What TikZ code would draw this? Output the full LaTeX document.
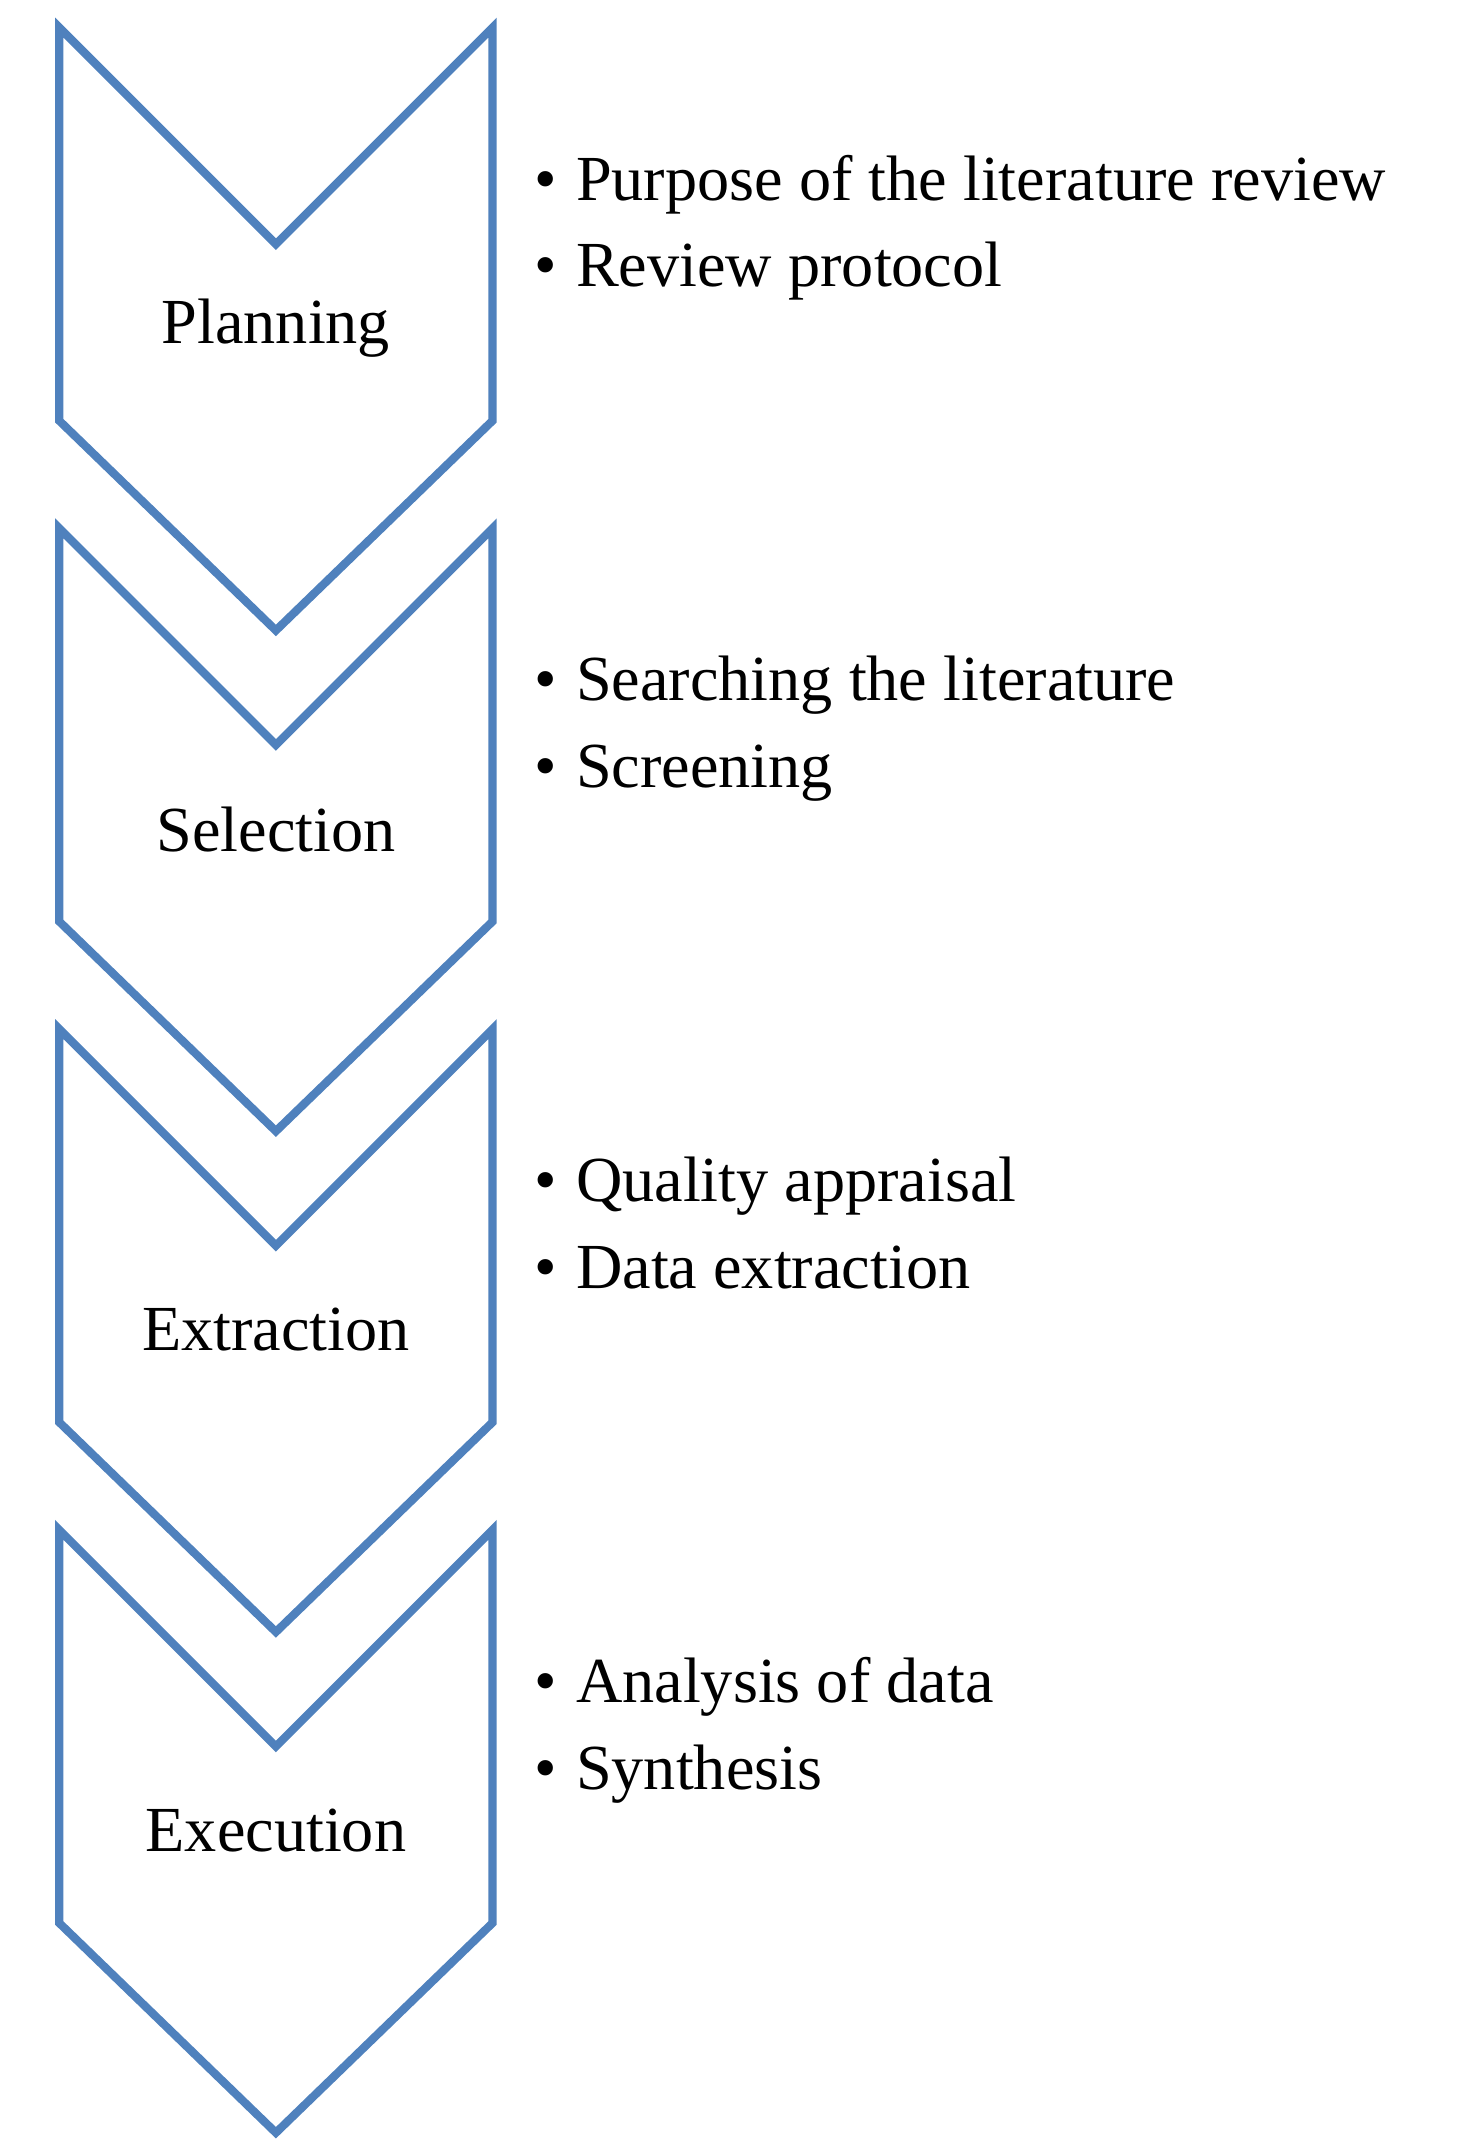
\documentclass[tikz,border=0pt]{standalone}
\usepackage{fontspec}
\setmainfont{Liberation Serif}
\definecolor{stepblue}{RGB}{79,129,189}
\tikzset{
  chevron/.style={draw=stepblue, line width=3.4pt, line join=miter},
  steplabel/.style={font=\fontsize{26.5}{30}\selectfont, anchor=center},
  bullettext/.style={font=\fontsize{26.5}{30}\selectfont, anchor=base west, inner sep=0pt}
}
\begin{document}
\begin{tikzpicture}[x=0.02cm, y=-0.02cm]
  \useasboundingbox (0,0) rectangle (1060,1552);
  \foreach \name [count=\c] in {Planning,Selection,Extraction,Execution}
  {
    \pgfmathsetmacro{\dy}{(\c-1)*363}
    \begin{scope}[yshift=-\dy*0.02cm]
      \draw [chevron] (43,20) -- (200,177) -- (357,20) -- (357,305)
        -- (200,457) -- (43,305) -- cycle;
      \node [steplabel] (step\c) at (200,238) {\name};
    \end{scope}
  }
  % bullet points
  \foreach \txt [count=\c] in {Purpose of the literature review, Review protocol,
    Searching the literature, Screening, Quality appraisal, Data extraction,
    Analysis of data, Synthesis}
  {
    \pgfmathsetmacro{\blk}{int((\c-1)/2)}
    \pgfmathsetmacro{\yy}{145+\blk*363+mod(\c-1,2)*63}
    \node [bullettext] (item\c) at (387,\yy) {\textbullet\hspace{0.3em}\txt};
  }
\end{tikzpicture}
\end{document}
